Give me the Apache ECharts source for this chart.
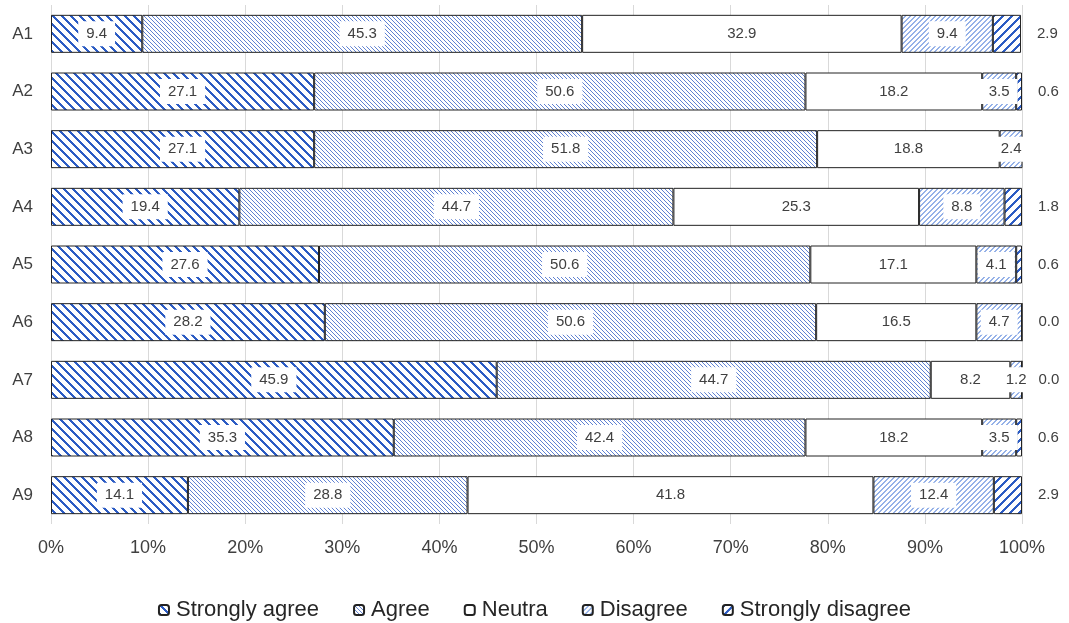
<!DOCTYPE html>
<html><head><meta charset="utf-8">
<script src="https://cdn.jsdelivr.net/npm/echarts@6/dist/echarts.min.js"></script>
<style>html,body{margin:0;padding:0;background:#fff}#c{width:1069px;height:623px}</style>
</head><body><div id="c"></div>
<script>
const categories = ['A1','A2','A3','A4','A5','A6','A7','A8','A9'];
const seriesNames = ['Strongly agree','Agree','Neutra','Disagree','Strongly disagree'];
const stronglyAgree = [9.4,27.1,27.1,19.4,27.6,28.2,45.9,35.3,14.1];
const agree = [45.3,50.6,51.8,44.7,50.6,50.6,44.7,42.4,28.8];
const neutral = [32.9,18.2,18.8,25.3,17.1,16.5,8.2,18.2,41.8];
const disagree = [9.4,3.5,2.4,8.8,4.1,4.7,1.2,3.5,12.4];
const stronglyDisagree = [2.9,0.6,0.0,1.8,0.6,0.0,0.0,0.6,2.9];
const xTicks = [0,10,20,30,40,50,60,70,80,90,100];

function stripe(n, w, rgb, back) {
  const c = document.createElement('canvas');
  c.width = n; c.height = n;
  const g = c.getContext('2d');
  const img = g.createImageData(n, n);
  for (let y = 0; y < n; y++) for (let x = 0; x < n; x++) {
    const t = back ? ((x - y) % n + n) % n : (x + y) % n;
    const on = t < w;
    const i = (y * n + x) * 4;
    img.data[i] = on ? rgb[0] : 255;
    img.data[i+1] = on ? rgb[1] : 255;
    img.data[i+2] = on ? rgb[2] : 255;
    img.data[i+3] = 255;
  }
  g.putImageData(img, 0, 0);
  return {image: c, repeat: 'repeat'};
}
const fills = [
  stripe(9, 3, [44, 92, 196], true),
  stripe(4, 1, [96, 130, 210], true),
  '#ffffff',
  stripe(5, 2, [150, 178, 232], false),
  stripe(9, 3, [44, 92, 196], false)
];
const values = [stronglyAgree, agree, neutral, disagree, stronglyDisagree];
const FONT = 'Liberation Sans, Arial, sans-serif';

const series = values.map((v, i) => ({
  name: seriesNames[i],
  type: 'bar',
  stack: 'all',
  barWidth: 38,
  data: v,
  itemStyle: {color: fills[i], borderColor: '#222222', borderWidth: 1},
  label: i === 4 ? {
    show: true, position: 'right', distance: 16,
    color: '#404040', fontSize: 15, fontFamily: FONT,
    formatter: p => p.value.toFixed(1)
  } : {
    show: true, position: 'inside',
    color: '#404040', fontSize: 15, fontFamily: FONT,
    backgroundColor: i === 2 ? 'transparent' : '#ffffff', padding: [5, 8],
    formatter: p => p.value.toFixed(1)
  },
  emphasis: {disabled: true}
}));

const chart = echarts.init(document.getElementById('c'), null, {renderer: 'canvas'});
chart.setOption({
  animation: false,
  backgroundColor: '#fff',
  grid: {left: 51, right: 47, top: 5, bottom: 99, containLabel: false},
  xAxis: {
    type: 'value', min: 0, max: 100, interval: 10,
    axisLine: {show: false}, axisTick: {show: false},
    splitLine: {show: true, lineStyle: {color: '#d9d9d9', width: 1}},
    axisLabel: {formatter: v => xTicks.includes(v) ? v + '%' : '', color: '#404040', fontSize: 18, fontFamily: FONT, margin: 15}
  },
  yAxis: {
    type: 'category', data: categories, inverse: true,
    axisLine: {show: false}, axisTick: {show: false},
    axisLabel: {color: '#404040', fontSize: 17, fontFamily: FONT, margin: 18}
  },
  legend: {
    top: 594, left: 'center', itemWidth: 10, itemHeight: 10, itemGap: 34,
    textStyle: {fontSize: 22, color: '#262626', fontFamily: FONT, padding: [0, 0, 0, 2]},
    data: seriesNames
  },
  series: series
});
</script></body></html>
